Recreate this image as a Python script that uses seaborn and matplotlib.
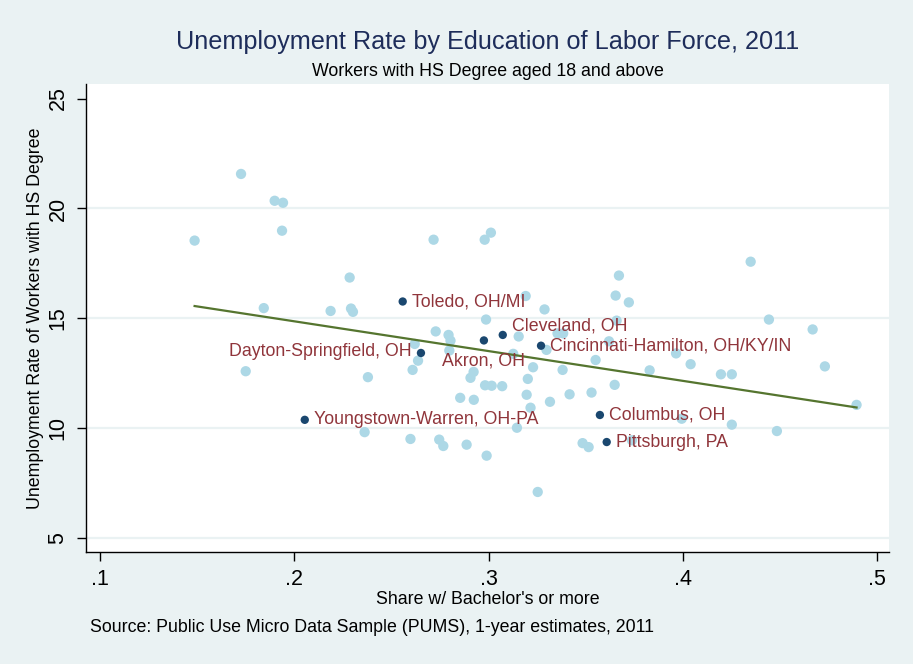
import matplotlib
matplotlib.use('Agg')
import matplotlib.pyplot as plt
import seaborn as sns
import numpy as np
import pandas as pd

# Data: share with bachelor's (x) and unemployment rate (y)
other_share = [0.1726, 0.1899, 0.1942, 0.1937, 0.1487, 0.2285, 0.1843, 0.2187, 0.2292, 0.2302,
               0.2717, 0.2980, 0.3012, 0.3191, 0.3288, 0.2987, 0.2728, 0.2794, 0.2804, 0.2620,
               0.3155, 0.2637, 0.2609, 0.2798, 0.2923, 0.2907, 0.3127, 0.3229, 0.3202, 0.3381,
               0.3355, 0.3384, 0.3298, 0.3551, 0.2982, 0.3016, 0.3070, 0.3196, 0.2854, 0.2924,
               0.3216, 0.3316, 0.3417, 0.3530, 0.3146, 0.2598, 0.2746, 0.2767, 0.2887, 0.2990,
               0.3484, 0.3515, 0.3253, 0.1750, 0.2379, 0.2362, 0.3671, 0.3654, 0.3722, 0.4349,
               0.4443, 0.4668, 0.4731, 0.4894, 0.3659, 0.3620, 0.3965, 0.3829, 0.4040, 0.4196,
               0.4252, 0.3649, 0.4252, 0.4484, 0.3738, 0.3994]
other_rate = [21.57, 20.35, 20.26, 18.99, 18.54, 16.86, 15.47, 15.34, 15.45, 15.30,
              18.58, 18.58, 18.90, 16.02, 15.41, 14.95, 14.41, 14.25, 13.99, 13.84,
              14.18, 13.08, 12.66, 13.54, 12.57, 12.30, 13.39, 12.78, 12.25, 12.66,
              14.32, 14.32, 13.57, 13.11, 11.96, 11.94, 11.92, 11.53, 11.39, 11.30,
              10.94, 11.21, 11.55, 11.63, 10.03, 9.52, 9.49, 9.20, 9.26, 8.76,
              9.33, 9.15, 7.11, 12.60, 12.33, 9.83, 16.95, 16.04, 15.73, 17.58,
              14.95, 14.50, 12.82, 11.07, 14.90, 13.96, 13.41, 12.64, 12.92, 12.46,
              12.46, 11.98, 10.17, 9.88, 9.46, 10.44]

ohio_names = ['Toledo, OH/MI', 'Cleveland, OH', 'Akron, OH', 'Cincinnati-Hamilton, OH/KY/IN',
              'Dayton-Springfield, OH', 'Youngstown-Warren, OH-PA', 'Columbus, OH', 'Pittsburgh, PA']
ohio_share = [0.2558, 0.3073, 0.2976, 0.3270, 0.2652, 0.2054, 0.3573, 0.3608]
ohio_rate = [15.77, 14.25, 14.00, 13.76, 13.43, 10.39, 10.61, 9.38]
# label placement (clock position like Stata's mlabposition)
ohio_pos = [3, 2, 6, 3, 9, 3, 3, 3]

yticks = [5, 10, 15, 20, 25]
xticks = [0.1, 0.2, 0.3, 0.4, 0.5]
xtick_labels = ['.1', '.2', '.3', '.4', '.5']

others = pd.DataFrame({'share': other_share, 'rate': other_rate})
ohio = pd.DataFrame({'share': ohio_share, 'rate': ohio_rate, 'name': ohio_names})
everything = pd.concat([others, ohio[['share', 'rate']]])

bg = '#EAF2F3'
plt.rcParams['font.family'] = ['Liberation Sans', 'DejaVu Sans']

fig = plt.figure(figsize=(9.13, 6.64), dpi=100, facecolor=bg)
ax = fig.add_axes([86 / 913, 1 - 552 / 664, (889 - 86) / 913, (552 - 84) / 664])
ax.set_facecolor('white')

for t in yticks[:-1]:
    ax.axhline(t, color=bg, lw=1.6, zorder=0)

sns.scatterplot(data=others, x='share', y='rate', color='#ADD8E6', s=55,
                edgecolor='none', ax=ax, zorder=2)
sns.scatterplot(data=ohio, x='share', y='rate', color='#1A476F', s=36,
                edgecolor='none', ax=ax, zorder=3)
sns.regplot(data=everything, x='share', y='rate', scatter=False, ci=None, truncate=True,
            line_kws={'color': '#55752F', 'lw': 1.6, 'zorder': 2.5}, ax=ax)

lab_size = 12.8
offsets = {3: (6.5, 0, 'left', 'center'), 2: (6.5, 6.5, 'left', 'center'),
           6: (0, -14.5, 'center', 'center'), 9: (-7, 1, 'right', 'center')}
for i, row in ohio.iterrows():
    dx, dy, ha, va = offsets[ohio_pos[i]]
    ax.annotate(row['name'], (row['share'], row['rate']), xytext=(dx, dy),
                textcoords='offset points', ha=ha, va=va, fontsize=lab_size,
                color='#90353B', zorder=4)

ax.set_xlim(0.0928, 0.5061)
ax.set_ylim(4.38, 25.66)
ax.set_xticks(xticks)
ax.set_xticklabels(xtick_labels)
ax.set_yticks(yticks)
ax.set_yticklabels([str(t) for t in yticks], rotation=90, va='center')
ax.tick_params(axis='both', direction='out', length=6.5, width=1, colors='black',
               labelsize=15.5, pad=6)
for side in ['top', 'right']:
    ax.spines[side].set_visible(False)
for side in ['left', 'bottom']:
    ax.spines[side].set_color('black')
    ax.spines[side].set_linewidth(1)

ax.set_xlabel("Share w/ Bachelor's or more", fontsize=lab_size)
ax.set_ylabel('Unemployment Rate of Workers with HS Degree', fontsize=lab_size)
ax.xaxis.set_label_coords((487.5 - 86) / 803, -(600 - 552) / 468)
ax.yaxis.set_label_coords(-(86 - 36) / 803, 0.5)
ax.xaxis.label.set_va('center')
ax.yaxis.label.set_va('center')

fig.text(487.5 / 913, 1 - 42 / 664, 'Unemployment Rate by Education of Labor Force, 2011',
         ha='center', va='center', fontsize=18.2, color='#1E2D5A')
fig.text(487.5 / 913, 1 - 71 / 664, 'Workers with HS Degree aged 18 and above',
         ha='center', va='center', fontsize=lab_size, color='black')
fig.text(90 / 913, 1 - 628 / 664,
         'Source: Public Use Micro Data Sample (PUMS), 1-year estimates, 2011',
         ha='left', va='center', fontsize=lab_size, color='black')

fig.savefig('out.png', dpi=100, facecolor=bg)
